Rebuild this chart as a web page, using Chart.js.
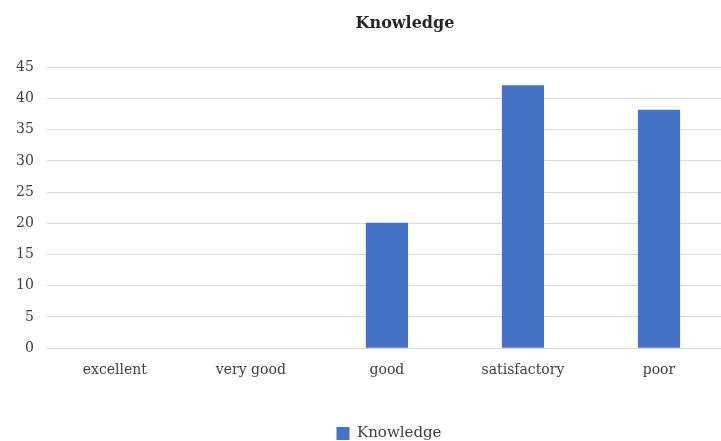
<!DOCTYPE html>
<html>
<head>
<meta charset="utf-8">
<script src="https://cdn.jsdelivr.net/npm/chart.js@4"></script>
<style>
  html, body { margin: 0; padding: 0; background: #ffffff; overflow: hidden; }
  #wrap { width: 721px; height: 441px; overflow: hidden; }
</style>
</head>
<body>
<div id="wrap"><canvas id="chart" width="727" height="441"></canvas></div>
<script>
// Rating categories and share of respondents per rating
const categories = ['excellent', 'very good', 'good', 'satisfactory', 'poor'];
const knowledgeValues = [0, 0, 20.1, 42.1, 38.2];
const seriesName = 'Knowledge';
const chartTitle = 'Knowledge';

const serif = "'DejaVu Serif', 'Liberation Serif', serif";

// Shift the title and legend blocks sideways, centring them over the plot area
const blockShift = {
  id: 'blockShift',
  afterLayout(chart) {
    const t = chart.titleBlock;
    if (t) { t.left += 40; t.right += 40; }
    const l = chart.legend;
    if (l) {
      l.left += 24; l.right += 24;
      l.legendHitBoxes.forEach(b => { b.left += 24; });
    }
  }
};

new Chart(document.getElementById('chart'), {
  type: 'bar',
  data: {
    labels: categories,
    datasets: [{
      label: seriesName,
      data: knowledgeValues,
      backgroundColor: '#4472C4',
      borderWidth: 0,
      categoryPercentage: 0.62,
      barPercentage: 0.5
    }]
  },
  plugins: [blockShift],
  options: {
    responsive: false,
    animation: false,
    layout: { padding: { left: 3, right: 0, top: 14, bottom: -10 } },
    plugins: {
      title: {
        display: true,
        text: chartTitle,
        color: '#262626',
        font: { family: serif, size: 16, weight: 'bold' },
        padding: { top: 0, bottom: 34 }
      },
      legend: {
        position: 'bottom',
        labels: {
          color: '#404040',
          font: { family: serif, size: 15 },
          boxWidth: 13,
          boxHeight: 13,
          padding: 0
        }
      },
      tooltip: { enabled: false }
    },
    scales: {
      x: {
        grid: { display: false, drawTicks: false },
        border: { display: true, color: '#d9d9d9' },
        ticks: {
          color: '#404040',
          font: { family: serif, size: 14 },
          padding: 14
        },
        afterFit: (axis) => { axis.height += 33; }
      },
      y: {
        min: 0,
        max: 45,
        grid: { color: '#d9d9d9', drawTicks: false },
        border: { display: false },
        ticks: {
          stepSize: 5,
          color: '#404040',
          font: { family: serif, size: 14 },
          padding: 13
        }
      }
    }
  }
});
</script>
</body>
</html>
